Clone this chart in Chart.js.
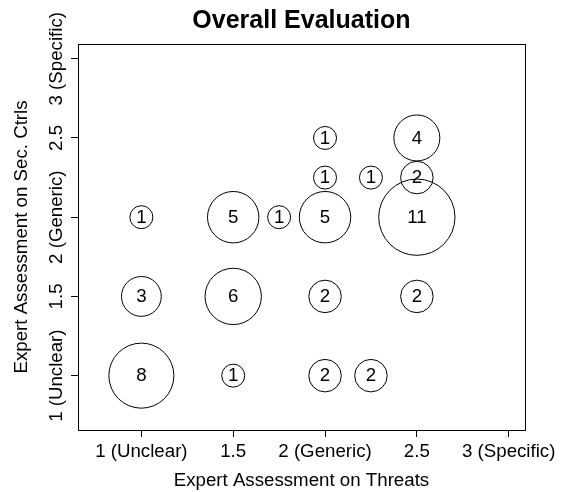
<!DOCTYPE html>
<html>
<head>
<meta charset="utf-8">
<script src="https://cdn.jsdelivr.net/npm/chart.js@4.4.0/dist/chart.umd.min.js"></script>
<style>
  body { margin: 0; background: #fff; }
  canvas { display: block; }
</style>
</head>
<body>
<canvas id="grafico_bubble" width="564" height="492"></canvas>
<script>
// dados (x = ameacas, y = controles)
const ameacas   = [1, 1.5, 2, 2.25,  1, 1.5, 2, 2.5,  1, 1.5, 1.75, 2, 2.5,  2, 2.25, 2.5,  2, 2.5]
const controles = [1, 1, 1, 1,  1.5, 1.5, 1.5, 1.5,  2, 2, 2, 2, 2,  2.25, 2.25, 2.25,  2.5, 2.5]
const contagens = [8, 1, 2, 2,  3, 6, 2, 2,  1, 5, 1, 5, 11,  1, 1, 2,  1, 4]

const tickValores = [1, 1.5, 2, 2.5, 3]
const tickNomes = ['1 (Unclear)', '1.5', '2 (Generic)', '2.5', '3 (Specific)']

const titulo = 'Overall Evaluation'
const tituloX = 'Expert Assessment on Threats'
const tituloY = 'Expert Assessment on Sec. Ctrls'

const familia = "'Liberation Sans', Arial, Helvetica, sans-serif"
const tam = 18.7

Chart.defaults.font.family = familia
Chart.defaults.color = '#000'

const pontos = contagens.map((n, i) => ({
    x: ameacas[i],
    y: controles[i],
    r: 11.5 * Math.sqrt(n)
}))

// numeros dentro das bolhas, rotulos do eixo y e a caixa
const extras = {
    id: 'extras',
    afterDatasetsDraw(chart) {
        const ctx = chart.ctx
        const meta = chart.getDatasetMeta(0)
        ctx.save()
        ctx.fillStyle = '#000'
        ctx.font = tam + 'px ' + familia
        ctx.textAlign = 'center'
        ctx.textBaseline = 'middle'
        meta.data.forEach((el, i) => {
            ctx.fillText(String(contagens[i]), el.x, el.y + 0.5)
        })
        ctx.restore()
    },
    afterDraw(chart) {
        const ctx = chart.ctx
        const a = chart.chartArea
        ctx.save()
        ctx.strokeStyle = '#000'
        ctx.lineWidth = 1
        ctx.strokeRect(Math.round(a.left) + 0.5, Math.round(a.top) + 0.5,
            Math.round(a.right - a.left), Math.round(a.bottom - a.top))

        const ys = chart.scales.y
        ctx.fillStyle = '#000'
        ctx.font = tam + 'px ' + familia
        ctx.textAlign = 'center'
        ctx.textBaseline = 'alphabetic'
        tickValores.forEach((v, i) => {
            ctx.save()
            ctx.translate(61.5, ys.getPixelForValue(v))
            ctx.rotate(-Math.PI / 2)
            ctx.fillText(tickNomes[i], 0, 0)
            ctx.restore()
        })
        ctx.restore()
    }
}

const ctx = document.getElementById('grafico_bubble')

const config = {
    type: 'bubble',
    data: {
        datasets: [{
            data: pontos,
            backgroundColor: 'rgba(0,0,0,0)',
            borderColor: '#000',
            borderWidth: 1,
            hoverBorderWidth: 1
        }]
    },
    options: {
        responsive: false,
        animation: false,
        devicePixelRatio: 1,
        events: [],
        layout: {
            padding: { left: 0, right: 39, top: 0, bottom: 0 }
        },
        plugins: {
            legend: { display: false },
            tooltip: { enabled: false },
            title: {
                display: true,
                text: titulo,
                fullSize: false,
                color: '#000',
                font: { size: 25, weight: 'bold' },
                padding: { top: 6.3, bottom: 7.7 }
            }
        },
        scales: {
            x: {
                type: 'linear',
                min: 0.655,
                max: 3.088,
                afterBuildTicks: s => { s.ticks = tickValores.map(v => ({ value: v })) },
                afterFit: s => { s.height = 62 },
                grid: {
                    drawOnChartArea: false,
                    drawTicks: true,
                    tickLength: 7,
                    color: '#000'
                },
                border: { display: false },
                ticks: {
                    autoSkip: false,
                    maxRotation: 0,
                    padding: 4,
                    color: '#000',
                    font: { size: tam },
                    callback: (v) => {
                        const i = tickValores.indexOf(v)
                        return i >= 0 ? tickNomes[i] : ''
                    }
                },
                title: {
                    display: true,
                    text: tituloX,
                    color: '#000',
                    font: { size: tam },
                    padding: { top: 0, bottom: 0 }
                }
            },
            y: {
                type: 'linear',
                min: 0.657,
                max: 3.093,
                afterBuildTicks: s => { s.ticks = tickValores.map(v => ({ value: v })) },
                afterFit: s => { s.width = 78 },
                grid: {
                    drawOnChartArea: false,
                    drawTicks: true,
                    tickLength: 7,
                    color: '#000'
                },
                border: { display: false },
                ticks: { display: false },
                title: {
                    display: true,
                    text: tituloY,
                    color: '#000',
                    font: { size: tam },
                    padding: { top: 10.8, bottom: 0 }
                }
            }
        }
    },
    plugins: [extras]
}

const grafico = new Chart(ctx, config)
</script>
</body>
</html>
